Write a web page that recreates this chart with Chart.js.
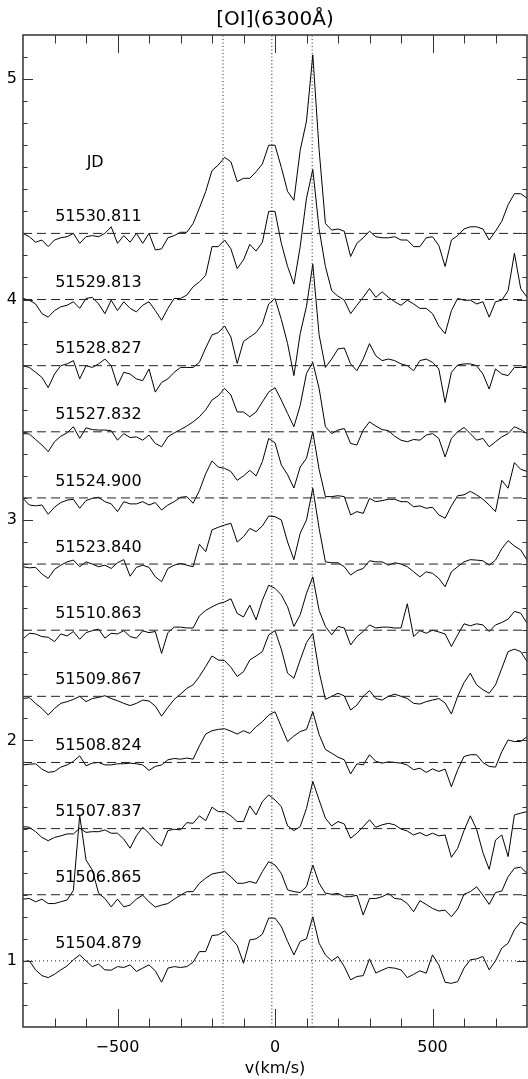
<!DOCTYPE html>
<html>
<head>
<meta charset="utf-8">
<script src="https://cdn.jsdelivr.net/npm/chart.js@4"></script>
<style>
  html, body { margin: 0; padding: 0; background: #fff; }
  canvas { display: block; }
</style>
</head>
<body>
<canvas id="oiChart" width="528" height="1079"></canvas>
<script>
// velocity grid (km/s)
const vel = [-800, -780, -760, -740, -720, -700, -680, -660, -640, -620,
  -600, -580, -560, -540, -520, -500, -480, -460, -440, -420,
  -400, -380, -360, -340, -320, -300, -280, -260, -240, -220,
  -200, -180, -160, -140, -120, -100, -80, -60, -40, -20,
  0, 20, 40, 60, 80, 100, 120, 140, 160, 180,
  200, 220, 240, 260, 280, 300, 320, 340, 360, 380,
  400, 420, 440, 460, 480, 500, 520, 540, 560, 580,
  600, 620, 640, 660, 680, 700, 720, 740, 760, 780, 800];

// normalized flux + offset, as plotted
const f51530 = [4.30, 4.285, 4.26, 4.27, 4.24, 4.27, 4.28, 4.285, 4.30, 4.255,
  4.285, 4.29, 4.285, 4.30, 4.33, 4.255, 4.29, 4.26, 4.30, 4.255,
  4.30, 4.225, 4.23, 4.28, 4.29, 4.305, 4.305, 4.345, 4.415, 4.49,
  4.585, 4.61, 4.645, 4.625, 4.535, 4.55, 4.55, 4.58, 4.615, 4.70,
  4.70, 4.60, 4.49, 4.45, 4.677, 4.81, 5.11, 4.68, 4.345, 4.315,
  4.32, 4.31, 4.195, 4.255, 4.28, 4.31, 4.285, 4.28, 4.28, 4.285,
  4.27, 4.27, 4.24, 4.24, 4.28, 4.285, 4.245, 4.15, 4.27, 4.29,
  4.32, 4.33, 4.33, 4.32, 4.27, 4.31, 4.355, 4.43, 4.48, 4.48, 4.46];
const f51529 = [4.005, 3.997, 3.98, 3.936, 3.92, 3.95, 3.967, 3.974, 3.99, 3.96,
  4.005, 4.01, 3.98, 3.936, 3.997, 3.95, 3.99, 3.96, 3.944, 3.974,
  3.99, 3.95, 3.906, 3.96, 4.005, 4.005, 4.02, 4.058, 4.08, 4.11,
  4.24, 4.24, 4.27, 4.23, 4.14, 4.18, 4.25, 4.22, 4.26, 4.40,
  4.40, 4.255, 4.15, 4.07, 4.24, 4.46, 4.59, 4.32, 4.15, 4.04,
  4.015, 3.997, 3.936, 3.974, 4.01, 4.05, 4.01, 4.035, 4.01, 3.99,
  3.974, 3.997, 3.98, 3.96, 3.96, 3.936, 3.88, 3.845, 3.95, 4.005,
  3.997, 3.997, 3.98, 3.99, 3.92, 3.99, 3.997, 4.04, 4.21, 4.05, 4.01];
const f51528 = [3.70, 3.692, 3.67, 3.647, 3.60, 3.662, 3.70, 3.708, 3.723, 3.64,
  3.70, 3.692, 3.708, 3.73, 3.70, 3.61, 3.67, 3.662, 3.64, 3.632,
  3.685, 3.58, 3.624, 3.64, 3.67, 3.692, 3.692, 3.692, 3.715, 3.78,
  3.84, 3.85, 3.88, 3.83, 3.71, 3.81, 3.83, 3.85, 3.89, 3.98,
  4.005, 3.91, 3.80, 3.655, 3.845, 3.97, 4.16, 3.84, 3.692, 3.73,
  3.776, 3.78, 3.708, 3.677, 3.73, 3.80, 3.745, 3.723, 3.73, 3.723,
  3.708, 3.70, 3.677, 3.723, 3.73, 3.715, 3.685, 3.533, 3.67, 3.703,
  3.708, 3.708, 3.70, 3.662, 3.594, 3.685, 3.662, 3.655, 3.692, 3.692, 3.692];
const f51527 = [3.392, 3.39, 3.365, 3.34, 3.31, 3.355, 3.38, 3.395, 3.423, 3.37,
  3.418, 3.41, 3.408, 3.408, 3.405, 3.362, 3.392, 3.374, 3.377, 3.362,
  3.385, 3.347, 3.332, 3.377, 3.395, 3.41, 3.426, 3.445, 3.468, 3.50,
  3.544, 3.564, 3.597, 3.567, 3.49, 3.49, 3.468, 3.49, 3.536, 3.58,
  3.60, 3.544, 3.483, 3.423, 3.52, 3.665, 3.715, 3.597, 3.423, 3.392,
  3.408, 3.415, 3.347, 3.34, 3.408, 3.445, 3.426, 3.41, 3.405, 3.38,
  3.362, 3.355, 3.365, 3.362, 3.385, 3.392, 3.37, 3.286, 3.37, 3.40,
  3.42, 3.392, 3.362, 3.37, 3.332, 3.355, 3.377, 3.392, 3.423, 3.41, 3.392];
const f51524 = [3.098, 3.068, 3.064, 3.068, 3.026, 3.058, 3.079, 3.09, 3.094, 3.053,
  3.088, 3.098, 3.103, 3.083, 3.073, 3.038, 3.083, 3.073, 3.073, 3.083,
  3.068, 3.079, 3.045, 3.068, 3.083, 3.103, 3.106, 3.076, 3.133, 3.21,
  3.268, 3.24, 3.234, 3.22, 3.18, 3.20, 3.225, 3.20, 3.265, 3.37,
  3.35, 3.25, 3.205, 3.145, 3.24, 3.28, 3.40, 3.23, 3.106, 3.106,
  3.11, 3.106, 3.023, 3.038, 3.03, 3.098, 3.083, 3.088, 3.094, 3.094,
  3.083, 3.083, 3.06, 3.064, 3.053, 3.058, 3.023, 3.008, 3.064, 3.11,
  3.114, 3.13, 3.114, 3.094, 3.068, 3.038, 3.18, 3.144, 3.26, 3.23, 3.22];
const f51523 = [2.788, 2.783, 2.785, 2.755, 2.735, 2.776, 2.795, 2.81, 2.818, 2.788,
  2.81, 2.80, 2.788, 2.795, 2.78, 2.806, 2.82, 2.745, 2.785, 2.795,
  2.785, 2.742, 2.72, 2.78, 2.795, 2.803, 2.795, 2.788, 2.89, 2.856,
  2.955, 2.967, 2.977, 2.985, 2.90, 2.924, 2.962, 2.947, 2.973, 3.018,
  3.015, 3.00, 2.90, 2.82, 2.94, 3.00, 3.144, 2.962, 2.81, 2.806,
  2.806, 2.788, 2.75, 2.77, 2.78, 2.815, 2.81, 2.81, 2.795, 2.806,
  2.80, 2.788, 2.765, 2.742, 2.765, 2.758, 2.735, 2.697, 2.765, 2.788,
  2.81, 2.82, 2.818, 2.815, 2.795, 2.818, 2.87, 2.906, 2.882, 2.864, 2.818];
const f51510 = [2.46, 2.486, 2.483, 2.471, 2.468, 2.448, 2.483, 2.474, 2.494, 2.459,
  2.489, 2.498, 2.505, 2.464, 2.486, 2.483, 2.498, 2.471, 2.464, 2.497,
  2.489, 2.494, 2.395, 2.489, 2.514, 2.514, 2.51, 2.51, 2.565, 2.59,
  2.606, 2.62, 2.628, 2.643, 2.576, 2.56, 2.614, 2.547, 2.636, 2.704,
  2.69, 2.66, 2.606, 2.517, 2.57, 2.667, 2.742, 2.59, 2.517, 2.479,
  2.517, 2.51, 2.433, 2.471, 2.494, 2.524, 2.51, 2.514, 2.514, 2.51,
  2.51, 2.62, 2.471, 2.498, 2.486, 2.50, 2.492, 2.483, 2.426, 2.479,
  2.529, 2.52, 2.529, 2.524, 2.494, 2.524, 2.535, 2.55, 2.585, 2.577, 2.532];
const f51509 = [2.19, 2.194, 2.168, 2.145, 2.115, 2.145, 2.168, 2.176, 2.186, 2.20,
  2.176, 2.19, 2.195, 2.203, 2.19, 2.18, 2.168, 2.158, 2.168, 2.183,
  2.179, 2.156, 2.11, 2.15, 2.186, 2.21, 2.236, 2.252, 2.29, 2.335,
  2.383, 2.365, 2.362, 2.332, 2.29, 2.312, 2.365, 2.383, 2.403, 2.479,
  2.498, 2.414, 2.305, 2.282, 2.365, 2.444, 2.486, 2.312, 2.186, 2.20,
  2.214, 2.202, 2.138, 2.16, 2.20, 2.226, 2.19, 2.183, 2.20, 2.21,
  2.20, 2.19, 2.168, 2.165, 2.176, 2.183, 2.19, 2.17, 2.12, 2.20,
  2.262, 2.305, 2.252, 2.23, 2.214, 2.252, 2.327, 2.403, 2.414, 2.403, 2.358];
const f51508 = [1.889, 1.892, 1.894, 1.87, 1.855, 1.859, 1.879, 1.889, 1.905, 1.93,
  1.885, 1.897, 1.90, 1.889, 1.889, 1.894, 1.894, 1.897, 1.894, 1.889,
  1.864, 1.882, 1.889, 1.912, 1.918, 1.915, 1.92, 1.915, 1.975, 2.029,
  2.044, 2.05, 2.053, 2.042, 2.029, 2.044, 2.032, 2.062, 2.085, 2.115,
  2.13, 2.062, 1.995, 2.02, 2.04, 2.05, 2.13, 2.027, 1.959, 1.942,
  1.924, 1.912, 1.848, 1.894, 1.889, 1.935, 1.905, 1.897, 1.903, 1.90,
  1.897, 1.888, 1.867, 1.874, 1.855, 1.871, 1.859, 1.87, 1.79, 1.867,
  1.927, 1.935, 1.935, 1.90, 1.882, 1.879, 1.949, 2.002, 1.995, 1.995, 2.017];
const f51507 = [1.609, 1.606, 1.586, 1.56, 1.545, 1.56, 1.567, 1.576, 1.576, 1.602,
  1.583, 1.586, 1.586, 1.594, 1.579, 1.579, 1.552, 1.511, 1.567, 1.606,
  1.579, 1.545, 1.521, 1.591, 1.597, 1.594, 1.627, 1.624, 1.658, 1.636,
  1.697, 1.677, 1.677, 1.658, 1.632, 1.632, 1.703, 1.662, 1.723, 1.753,
  1.73, 1.70, 1.612, 1.591, 1.609, 1.692, 1.814, 1.73, 1.647, 1.612,
  1.632, 1.621, 1.556, 1.579, 1.609, 1.64, 1.606, 1.617, 1.624, 1.617,
  1.598, 1.589, 1.571, 1.582, 1.567, 1.579, 1.567, 1.571, 1.47, 1.511,
  1.591, 1.658, 1.597, 1.491, 1.415, 1.548, 1.571, 1.473, 1.662, 1.67, 1.677];
const f51506 = [1.28, 1.283, 1.268, 1.28, 1.26, 1.26, 1.268, 1.276, 1.32, 1.66,
  1.458, 1.412, 1.307, 1.283, 1.245, 1.28, 1.245, 1.253, 1.28, 1.298,
  1.268, 1.244, 1.253, 1.26, 1.28, 1.298, 1.314, 1.314, 1.352, 1.375,
  1.394, 1.40, 1.405, 1.382, 1.352, 1.352, 1.36, 1.352, 1.405, 1.45,
  1.435, 1.397, 1.322, 1.314, 1.31, 1.337, 1.435, 1.352, 1.307, 1.302,
  1.306, 1.291, 1.291, 1.298, 1.208, 1.283, 1.283, 1.291, 1.306, 1.283,
  1.28, 1.26, 1.223, 1.273, 1.256, 1.238, 1.226, 1.23, 1.20, 1.235,
  1.302, 1.314, 1.336, 1.298, 1.256, 1.31, 1.317, 1.382, 1.42, 1.425, 1.397];
const f51504 = [0.997, 1.00, 0.959, 0.933, 0.924, 0.939, 0.959, 0.977, 1.005, 1.027,
  1.00, 0.974, 0.985, 0.959, 0.958, 0.974, 0.97, 0.982, 0.952, 0.967,
  0.982, 0.955, 0.903, 0.967, 0.974, 0.97, 0.974, 0.994, 1.042, 1.042,
  1.115, 1.118, 1.136, 1.103, 1.07, 0.989, 1.095, 1.10, 1.121, 1.194,
  1.194, 1.156, 1.088, 1.027, 1.088, 1.10, 1.20, 1.08, 1.027, 1.00,
  1.02, 0.974, 0.914, 0.929, 0.933, 1.009, 0.945, 0.958, 0.97, 0.967,
  0.959, 0.924, 0.939, 0.955, 0.944, 1.027, 0.982, 0.903, 0.898, 0.906,
  0.967, 1.005, 1.009, 1.02, 0.959, 1.00, 1.058, 1.08, 1.141, 1.176, 1.164];

const jdLabels = ["51530.811", "51529.813", "51528.827", "51527.832", "51524.900", "51523.840",
  "51510.863", "51509.867", "51508.824", "51507.837", "51506.865", "51504.879"];
const baselines = [4.3, 4.0, 3.7, 3.4, 3.1, 2.8, 2.5, 2.2, 1.9, 1.6, 1.3, 1.0];
const markerVel = [-165, -10, 118];
const xMajorTicks = [-500, 0, 500];
const yMajorTicks = [1, 2, 3, 4, 5];

const spectra = [f51530, f51529, f51528, f51527, f51524, f51523,
  f51510, f51509, f51508, f51507, f51506, f51504];

const XMIN = -800, XMAX = 800, YMIN = 0.7, YMAX = 5.2;
const FONT = '"DejaVu Sans", "Liberation Sans", sans-serif';

const datasets = [];

baselines.forEach((b, i) => {
  const last = i === baselines.length - 1;
  datasets.push({
    data: [{ x: XMIN, y: b }, { x: XMAX, y: b }],
    borderColor: "#222",
    borderWidth: 1,
    borderDash: last ? [1, 3] : [9, 5],
    pointRadius: 0,
  });
});

markerVel.forEach(v => {
  datasets.push({
    data: [{ x: v, y: YMIN }, { x: v, y: YMAX }],
    borderColor: "#222",
    borderWidth: 1,
    borderDash: [1, 2.5],
    pointRadius: 0,
  });
});

spectra.forEach(f => {
  datasets.push({
    data: vel.map((v, k) => ({ x: v, y: f[k] })),
    borderColor: "#000",
    borderWidth: 1,
    pointRadius: 0,
    tension: 0,
  });
});

// axis frame, inward ticks and all the text
const framePlugin = {
  id: "frame",
  afterDraw(chart) {
    const { ctx, chartArea: a, scales: { x, y } } = chart;
    ctx.save();
    ctx.strokeStyle = "#333";
    ctx.lineWidth = 1.5;
    ctx.strokeRect(a.left, a.top, a.right - a.left, a.bottom - a.top);

    ctx.lineWidth = 1;
    ctx.beginPath();
    for (let v = -700; v <= 700; v += 100) {
      const px = Math.round(x.getPixelForValue(v)) + 0.5;
      const len = xMajorTicks.includes(v) ? 18 : 8.5;
      ctx.moveTo(px, a.bottom); ctx.lineTo(px, a.bottom - len);
      ctx.moveTo(px, a.top); ctx.lineTo(px, a.top + len);
    }
    for (let t = 8; t <= 51; t++) {
      const py = Math.round(y.getPixelForValue(t / 10)) + 0.5;
      const len = t % 10 === 0 ? 10 : 4.5;
      ctx.moveTo(a.left, py); ctx.lineTo(a.left + len, py);
      ctx.moveTo(a.right, py); ctx.lineTo(a.right - len, py);
    }
    ctx.stroke();

    ctx.fillStyle = "#000";
    ctx.font = "16px " + FONT;
    ctx.textBaseline = "middle";

    ctx.textAlign = "right";
    yMajorTicks.forEach(t => ctx.fillText(String(t), a.left - 6, y.getPixelForValue(t)));

    ctx.textAlign = "center";
    xMajorTicks.forEach(t => {
      const s = t < 0 ? "\u2212" + Math.abs(t) : String(t);
      ctx.fillText(s, x.getPixelForValue(t), a.bottom + 21);
    });
    ctx.fillText("v(km/s)", (a.left + a.right) / 2, a.bottom + 42);

    ctx.textAlign = "left";
    jdLabels.forEach((lab, i) => {
      ctx.fillText(lab, x.getPixelForValue(-698), y.getPixelForValue(baselines[i] + 0.075));
    });
    ctx.fillText("JD", x.getPixelForValue(-598), y.getPixelForValue(4.62));

    ctx.font = "20px " + FONT;
    ctx.textAlign = "center";
    ctx.fillText("[OI](6300\u00C5)", (a.left + a.right) / 2, 20);
    ctx.restore();
  }
};

new Chart(document.getElementById("oiChart"), {
  type: "line",
  data: { datasets },
  options: {
    responsive: false,
    devicePixelRatio: 1,
    animation: false,
    layout: { padding: { left: 23, right: 1, top: 35, bottom: 52 } },
    plugins: { legend: { display: false }, tooltip: { enabled: false } },
    scales: {
      x: { type: "linear", min: XMIN, max: XMAX, display: false },
      y: { type: "linear", min: YMIN, max: YMAX, display: false },
    },
  },
  plugins: [framePlugin],
});
</script>
</body>
</html>
